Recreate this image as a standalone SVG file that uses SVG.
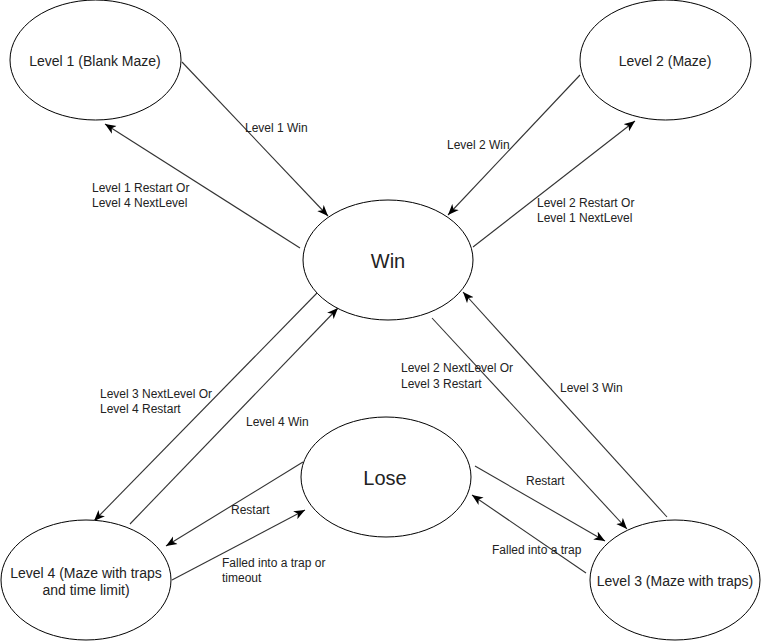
<svg xmlns="http://www.w3.org/2000/svg" width="761" height="641" viewBox="0 0 761 641">
<style>
.node ellipse{fill:#fff;stroke:#000;stroke-width:1}
.nt{font-family:"Liberation Sans",Arial,sans-serif;font-size:14px;fill:#222;text-anchor:middle;dominant-baseline:central}
.big{font-size:20px}
.edges line{stroke:#333;stroke-width:1.1;marker-end:url(#arr)}
.el{font-family:"Liberation Sans",Arial,sans-serif;font-size:12px;fill:#222;dominant-baseline:central}
</style>
<defs>
<marker id="arr" markerUnits="userSpaceOnUse" markerWidth="12" markerHeight="10" viewBox="0 0 12 10" refX="11" refY="5" orient="auto">
<path d="M0,0.5 L11,5 L0,9.5 L3,5 Z" fill="#000"/>
</marker>
</defs>
<rect width="761" height="641" fill="#fff"/>
<g class="edges">
<line x1="182" y1="62" x2="328" y2="216"/>
<line x1="300" y1="248" x2="105" y2="124"/>
<line x1="580" y1="75" x2="448" y2="215"/>
<line x1="473" y1="247" x2="635" y2="121"/>
<line x1="317" y1="293" x2="94" y2="521"/>
<line x1="130" y1="524" x2="338" y2="308"/>
<line x1="303" y1="462" x2="166" y2="546"/>
<line x1="172" y1="580" x2="305" y2="510"/>
<line x1="432" y1="318" x2="627" y2="529"/>
<line x1="667" y1="517" x2="463" y2="292"/>
<line x1="475" y1="466" x2="605" y2="541"/>
<line x1="586" y1="573" x2="472" y2="495"/>
</g>
<g id="level1" class="node"><ellipse cx="95.5" cy="60" rx="85.5" ry="60"/><text class="nt" x="95" y="61">Level 1 (Blank Maze)</text></g>
<g id="level2" class="node"><ellipse cx="665.5" cy="60" rx="85.5" ry="60"/><text class="nt" x="665" y="61">Level 2 (Maze)</text></g>
<g id="win" class="node"><ellipse cx="388" cy="260" rx="85" ry="60"/><text class="nt big" x="388" y="261">Win</text></g>
<g id="lose" class="node"><ellipse cx="386" cy="477" rx="85" ry="60"/><text class="nt big" x="385" y="478">Lose</text></g>
<g id="level4" class="node"><ellipse cx="86" cy="580" rx="85" ry="60"/><text class="nt" x="86" y="573">Level 4 (Maze with traps</text><text class="nt" x="86" y="590">and time limit)</text></g>
<g id="level3" class="node"><ellipse cx="675" cy="580" rx="85" ry="60"/><text class="nt" x="675" y="581">Level 3 (Maze with traps)</text></g>
<g class="labels">
<text class="el" x="245" y="128">Level 1 Win</text>
<text class="el" x="92" y="188">Level 1 Restart Or</text>
<text class="el" x="92" y="203">Level 4 NextLevel</text>
<text class="el" x="447" y="145">Level 2 Win</text>
<text class="el" x="537" y="203">Level 2 Restart Or</text>
<text class="el" x="537" y="218">Level 1 NextLevel</text>
<text class="el" x="100" y="394">Level 3 NextLevel Or</text>
<text class="el" x="100" y="409">Level 4 Restart</text>
<text class="el" x="246" y="422">Level 4 Win</text>
<text class="el" x="231" y="510">Restart</text>
<text class="el" x="222" y="563">Falled into a trap or</text>
<text class="el" x="222" y="578">timeout</text>
<text class="el" x="401" y="368">Level 2 NextLevel Or</text>
<text class="el" x="401" y="384">Level 3 Restart</text>
<text class="el" x="560" y="388">Level 3 Win</text>
<text class="el" x="526" y="481">Restart</text>
<text class="el" x="492" y="550">Falled into a trap</text>
</g>
</svg>
